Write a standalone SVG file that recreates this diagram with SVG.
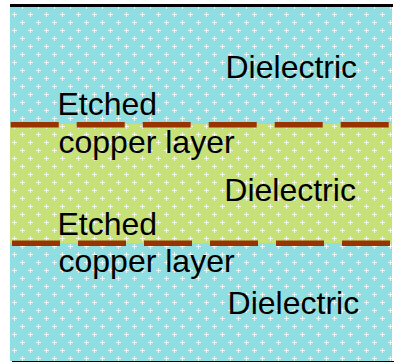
<svg xmlns="http://www.w3.org/2000/svg" width="394" height="362" viewBox="0 0 394 362">
  <defs>
    <pattern id="plus" width="16" height="16" patternUnits="userSpaceOnUse" x="2" y="2">
      <rect x="2" y="4" width="5" height="1" fill="#FFFFFF" shape-rendering="crispEdges"/>
      <rect x="4" y="2" width="1" height="5" fill="#FFFFFF" shape-rendering="crispEdges"/>
      <rect x="10" y="12" width="5" height="1" fill="#FFFFFF" shape-rendering="crispEdges"/>
      <rect x="12" y="10" width="1" height="5" fill="#FFFFFF" shape-rendering="crispEdges"/>
    </pattern>
  </defs>
  <style>
    .lbl { font-family: "Liberation Sans", Arial, sans-serif; font-size: 32px; fill: #000000; }
    .cu { stroke: #993300; stroke-width: 5.5; stroke-dasharray: 48 18; fill: none; }
  </style>
  <rect width="394" height="362" fill="#FFFFFF"/>
  <g id="layers" shape-rendering="crispEdges">
    <rect x="10" y="7" width="382" height="354" fill="#8FDFE2"/>
    <rect x="10" y="124" width="382" height="119" fill="#C6E175"/>
    <rect x="10" y="7" width="382" height="354" fill="url(#plus)" opacity="0.8"/>
    <rect x="10" y="4" width="383" height="3" fill="#000000"/>
    <rect x="12" y="360.5" width="382" height="1.5" fill="#000000"/>
  </g>
  <g id="copper">
    <line class="cu" x1="10.7" y1="124.75" x2="389" y2="124.75"/>
    <line class="cu" x1="12" y1="243.25" x2="390" y2="243.25"/>
  </g>
  <g id="labels">
    <text class="lbl" x="225.5" y="78">Dielectric</text>
    <text class="lbl" x="57.5" y="115">Etched</text>
    <text class="lbl" x="58.5" y="153">copper layer</text>
    <text class="lbl" x="224.3" y="200.7">Dielectric</text>
    <text class="lbl" x="57.5" y="235">Etched</text>
    <text class="lbl" x="58.5" y="272">copper layer</text>
    <text class="lbl" x="227.6" y="314.3">Dielectric</text>
  </g>
</svg>
